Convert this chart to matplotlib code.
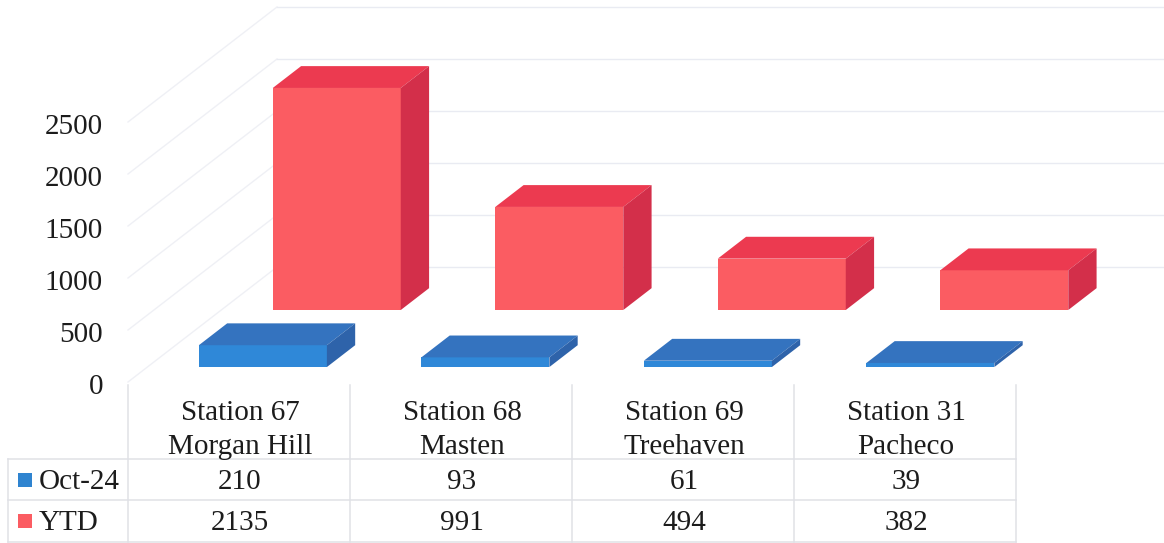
import matplotlib.pyplot as plt
from matplotlib.lines import Line2D
from matplotlib.patches import Polygon, Rectangle

plt.rcParams['font.family'] = ['Liberation Serif', 'DejaVu Serif']

# Table / chart data
stations = ['Station 67\nMorgan Hill', 'Station 68\nMasten', 'Station 69\nTreehaven', 'Station 31\nPacheco']
oct_24 = [210, 93, 61, 39]
ytd = [2135, 991, 494, 382]
y_ticks = [0, 500, 1000, 1500, 2000, 2500]

W, H = 1164, 543
X0, COL = 128, 222.5      # left edge of the plot, width of one category (px)
Y0, PX_PER_UNIT = 382, 0.104

# one unit of depth moves this far sideways and up, in data units
DEPTH_X = 149 / COL
DEPTH_Y = 115 / PX_PER_UNIT

fig = plt.figure(figsize=(W / 100, H / 100), dpi=100)
ax = fig.add_axes([0, 0, 1, 1])
ax.set_xlim(-X0 / COL, (W - X0) / COL)
ax.set_ylim((Y0 - H) / PX_PER_UNIT, Y0 / PX_PER_UNIT)
ax.axis('off')

WALL = '#eff0f5'
BACK = '#e9ebf2'
for t in y_ticks:
    ax.plot([0, DEPTH_X], [t, t + DEPTH_Y], color=WALL, lw=1, zorder=1)
    ax.plot([DEPTH_X, (W - X0) / COL], [t + DEPTH_Y, t + DEPTH_Y], color=BACK, lw=1, zorder=1)
    ax.text(-25 / COL, t - 5 / PX_PER_UNIT, str(t), ha='right', va='center', fontsize=21, color='#1c1c1c')


def bar3d(i, value, depth, faces):
    # front, top and side of one box; depth 0 is the front of the floor
    gap, width, thick = 51.5 / COL, 128 / COL, 0.19
    x = i + gap + depth * DEPTH_X
    y = depth * DEPTH_Y
    dx, dy = thick * DEPTH_X, thick * DEPTH_Y
    front, top, side = faces
    ax.add_patch(Polygon([(x, y), (x + width, y), (x + width, y + value), (x, y + value)],
                         fc=front, ec='none', zorder=3))
    ax.add_patch(Polygon([(x, y + value), (x + width, y + value), (x + width + dx, y + value + dy),
                          (x + dx, y + value + dy)], fc=top, ec='none', zorder=3))
    ax.add_patch(Polygon([(x + width, y), (x + width + dx, y + dy), (x + width + dx, y + value + dy),
                          (x + width, y + value)], fc=side, ec='none', zorder=3))


RED = ('#fb5c62', '#ec3a50', '#d32f4a')
BLUE = ('#2f88d8', '#3473bf', '#2e63aa')
for i in range(len(stations)):
    bar3d(i, ytd[i], 0.626, RED)
    bar3d(i, oct_24[i], 0.13, BLUE)

# Data table below the plot, laid out in pixels
def fx(x):
    return x / W


def fy(y):
    return 1 - y / H


TABLE = '#e0e1e6'
col_edges = [128, 350, 572, 794, 1016]
row_edges = [459, 500, 542]


def rule(x1, y1, x2, y2):
    fig.add_artist(Line2D([fx(x1), fx(x2)], [fy(y1), fy(y2)], color=TABLE, lw=1.1))


for y in row_edges:
    rule(8, y, col_edges[-1], y)
for x in col_edges:
    rule(x, 385, x, 542)
rule(8, 459, 8, 542)

for i, name in enumerate(stations):
    cx = (col_edges[i] + col_edges[i + 1]) / 2 + 1
    fig.text(fx(cx), fy(430), name, ha='center', va='center', fontsize=21,
             color='#1c1c1c', linespacing=1.42)
    fig.text(fx(cx), fy(482), str(oct_24[i]), ha='center', va='center', fontsize=21, color='#1c1c1c')
    fig.text(fx(cx), fy(523), str(ytd[i]), ha='center', va='center', fontsize=21, color='#1c1c1c')

for label, y, color in [('Oct-24', 480, '#2f84d0'), ('YTD', 521, '#fb5c62')]:
    fig.add_artist(Rectangle((fx(18), fy(y + 7)), 14 / W, 14 / H, transform=fig.transFigure, fc=color, ec='none'))
    fig.text(fx(39), fy(y + 2), label, ha='left', va='center', fontsize=21, color='#1c1c1c')

fig.savefig('out.png', dpi=100)
